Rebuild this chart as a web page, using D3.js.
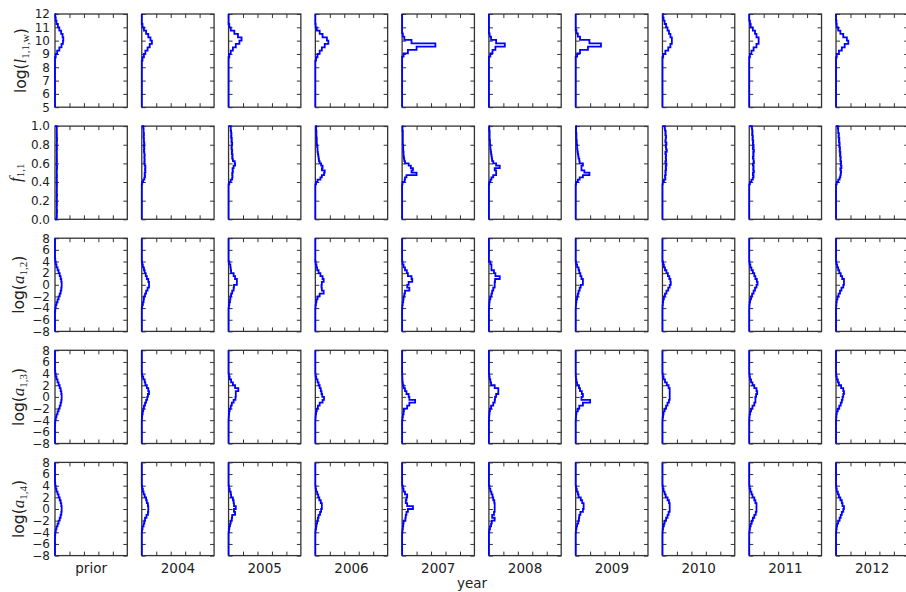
<!DOCTYPE html>
<html>
<head>
<meta charset="utf-8">
<script src="https://cdn.jsdelivr.net/npm/d3@7"></script>
<style>
  body { margin: 0; background: #fff; }
  svg { display: block; }
</style>
</head>
<body>
<svg id="chart" width="906" height="592"></svg>
<script>
// Column headings (one posterior per year, plus the prior)
const columns = ["prior", "2004", "2005", "2006", "2007", "2008", "2009", "2010", "2011", "2012"];

// Y-axis tick values for each row of panels
const ticksLogL = [5, 6, 7, 8, 9, 10, 11, 12];
const ticksF = [0, 0.2, 0.4, 0.6, 0.8, 1.0];
const ticksLogA = [-8, -6, -4, -2, 0, 2, 4, 6, 8];
// Unlabelled density ticks along the top and bottom edges
const ticksDensity = [0.2, 0.4, 0.6, 0.8];

// Histogram bin widths per row
const binLogL = 0.25;
const binF = 0.025;
const binLogA = 0.5;

// Step histograms: [lower edge of first bin, bin heights (normalised density)]
const histLogL11w = [
  [8.75, [0.01, 0.03, 0.06, 0.09, 0.11, 0.115, 0.105, 0.085, 0.06, 0.04, 0.02, 0.01, 0.004]],
  [8.5,  [0.01, 0.03, 0.05, 0.08, 0.11, 0.14, 0.12, 0.09, 0.06, 0.03, 0.01]],
  [8.75, [0.01, 0.03, 0.06, 0.10, 0.15, 0.18, 0.13, 0.08, 0.03, 0.01]],
  [8.5,  [0.01, 0.03, 0.06, 0.09, 0.13, 0.18, 0.16, 0.10, 0.06, 0.02, 0.005]],
  [8.8,  [0.02, 0.08, 0.20, 0.46, 0.13, 0.03, 0.01]],
  [8.8,  [0.02, 0.05, 0.09, 0.22, 0.10, 0.03, 0.01]],
  [8.8,  [0.02, 0.06, 0.17, 0.35, 0.19, 0.06, 0.03, 0.01]],
  [8.75, [0.01, 0.04, 0.08, 0.11, 0.13, 0.13, 0.11, 0.09, 0.07, 0.05, 0.03, 0.015, 0.005]],
  [8.75, [0.01, 0.03, 0.06, 0.10, 0.13, 0.13, 0.10, 0.08, 0.05, 0.02, 0.01]],
  [8.75, [0.01, 0.04, 0.08, 0.12, 0.17, 0.15, 0.10, 0.06, 0.03, 0.01, 0.005]]
];

const histF11 = [
  [0, [0.022, 0.026, 0.024, 0.028, 0.025, 0.023, 0.027, 0.025, 0.026, 0.024, 0.028, 0.023, 0.026, 0.025, 0.027, 0.024, 0.026, 0.022, 0.027, 0.025,
       0.024, 0.026, 0.028, 0.023, 0.025, 0.027, 0.024, 0.026, 0.025, 0.023, 0.027, 0.024, 0.026, 0.025, 0.028, 0.024, 0.026, 0.023, 0.025, 0.024]],
  [0.375, [0.005, 0.02, 0.035, 0.045, 0.04, 0.05, 0.045, 0.05, 0.04, 0.035, 0.04, 0.035, 0.04, 0.035, 0.03, 0.035, 0.03, 0.035, 0.03, 0.03, 0.025, 0.03, 0.025, 0.025, 0.02]],
  [0.375, [0.01, 0.03, 0.05, 0.055, 0.05, 0.06, 0.055, 0.07, 0.09, 0.085, 0.06, 0.05, 0.055, 0.045, 0.05, 0.04, 0.045, 0.05, 0.04, 0.045, 0.035, 0.04, 0.035, 0.03, 0.03]],
  [0.375, [0.01, 0.03, 0.07, 0.09, 0.12, 0.13, 0.09, 0.10, 0.08, 0.06, 0.05, 0.045, 0.04, 0.035, 0.03, 0.03, 0.025, 0.02, 0.02, 0.02, 0.015, 0.015, 0.015, 0.01, 0.01]],
  [0.375, [0.005, 0.035, 0.04, 0.06, 0.20, 0.13, 0.15, 0.12, 0.09, 0.04, 0.03, 0.025, 0.02, 0.02, 0.015, 0.015, 0.015, 0.01, 0.01, 0.01, 0.01, 0.01, 0.01, 0.005, 0.005]],
  [0.375, [0.005, 0.02, 0.035, 0.06, 0.10, 0.10, 0.08, 0.15, 0.10, 0.06, 0.045, 0.04, 0.035, 0.03, 0.025, 0.02, 0.02, 0.015, 0.015, 0.01, 0.01, 0.01, 0.01, 0.005, 0.005]],
  [0.375, [0.005, 0.03, 0.055, 0.10, 0.19, 0.12, 0.08, 0.08, 0.10, 0.055, 0.05, 0.04, 0.035, 0.03, 0.025, 0.02, 0.02, 0.015, 0.015, 0.01, 0.01, 0.01, 0.005, 0.005, 0.005]],
  [0.375, [0.005, 0.02, 0.04, 0.035, 0.045, 0.04, 0.05, 0.045, 0.055, 0.04, 0.05, 0.045, 0.05, 0.04, 0.06, 0.05, 0.045, 0.055, 0.04, 0.045, 0.05, 0.04, 0.045, 0.035, 0.03]],
  [0.375, [0.01, 0.03, 0.05, 0.06, 0.05, 0.065, 0.055, 0.06, 0.05, 0.065, 0.06, 0.05, 0.06, 0.055, 0.065, 0.05, 0.06, 0.05, 0.055, 0.045, 0.05, 0.04, 0.045, 0.04, 0.035]],
  [0.375, [0.01, 0.03, 0.05, 0.06, 0.065, 0.07, 0.06, 0.075, 0.065, 0.07, 0.06, 0.065, 0.055, 0.06, 0.05, 0.055, 0.045, 0.05, 0.04, 0.045, 0.035, 0.04, 0.03, 0.03, 0.025]]
];

const histLogA12 = [
  [-4.5, [0.003, 0.01, 0.02, 0.035, 0.05, 0.065, 0.078, 0.087, 0.092, 0.092, 0.087, 0.078, 0.065, 0.05, 0.035, 0.02, 0.01, 0.003]],
  [-4, [0.005, 0.015, 0.025, 0.03, 0.045, 0.06, 0.08, 0.10, 0.10, 0.09, 0.07, 0.055, 0.04, 0.03, 0.015, 0.005]],
  [-4, [0.005, 0.01, 0.02, 0.025, 0.035, 0.05, 0.07, 0.075, 0.115, 0.115, 0.09, 0.07, 0.035, 0.03, 0.025, 0.01]],
  [-4, [0.003, 0.008, 0.015, 0.03, 0.06, 0.115, 0.09, 0.085, 0.09, 0.115, 0.10, 0.07, 0.045, 0.025, 0.015, 0.005]],
  [-4, [0.003, 0.008, 0.015, 0.02, 0.03, 0.04, 0.10, 0.07, 0.09, 0.14, 0.13, 0.08, 0.065, 0.04, 0.02, 0.005]],
  [-4, [0.003, 0.006, 0.01, 0.02, 0.035, 0.045, 0.06, 0.08, 0.08, 0.085, 0.15, 0.09, 0.07, 0.035, 0.035, 0.02]],
  [-4, [0.002, 0.005, 0.01, 0.02, 0.03, 0.04, 0.055, 0.07, 0.10, 0.10, 0.08, 0.065, 0.05, 0.04, 0.02, 0.005]],
  [-4, [0.002, 0.005, 0.01, 0.02, 0.035, 0.055, 0.08, 0.10, 0.115, 0.11, 0.095, 0.075, 0.055, 0.035, 0.02, 0.008]],
  [-4, [0.002, 0.005, 0.012, 0.025, 0.04, 0.06, 0.08, 0.10, 0.115, 0.105, 0.085, 0.07, 0.05, 0.03, 0.015, 0.005]],
  [-4, [0.002, 0.005, 0.01, 0.02, 0.035, 0.055, 0.075, 0.10, 0.11, 0.11, 0.085, 0.065, 0.045, 0.03, 0.015, 0.005]]
];

const histLogA13 = [
  [-4.5, [0.003, 0.01, 0.02, 0.035, 0.05, 0.065, 0.078, 0.087, 0.092, 0.092, 0.087, 0.078, 0.065, 0.05, 0.035, 0.02, 0.01, 0.003]],
  [-4, [0.002, 0.005, 0.012, 0.02, 0.03, 0.045, 0.06, 0.075, 0.085, 0.10, 0.09, 0.07, 0.05, 0.04, 0.02, 0.005]],
  [-4, [0.002, 0.004, 0.008, 0.015, 0.03, 0.045, 0.07, 0.095, 0.10, 0.10, 0.135, 0.09, 0.06, 0.035, 0.015, 0.005]],
  [-4, [0.002, 0.005, 0.01, 0.02, 0.035, 0.06, 0.10, 0.12, 0.095, 0.085, 0.075, 0.06, 0.045, 0.03, 0.012, 0.004]],
  [-4, [0.005, 0.01, 0.02, 0.025, 0.07, 0.10, 0.18, 0.10, 0.09, 0.06, 0.04, 0.02, 0.01, 0.005, 0.003, 0.002]],
  [-4, [0.002, 0.004, 0.008, 0.015, 0.03, 0.06, 0.08, 0.085, 0.10, 0.13, 0.13, 0.08, 0.03, 0.02, 0.01, 0.004]],
  [-4, [0.002, 0.005, 0.01, 0.03, 0.05, 0.10, 0.20, 0.08, 0.10, 0.085, 0.06, 0.045, 0.02, 0.01, 0.004, 0.001]],
  [-4, [0.003, 0.008, 0.015, 0.03, 0.05, 0.07, 0.09, 0.10, 0.10, 0.10, 0.10, 0.085, 0.06, 0.035, 0.015, 0.005]],
  [-4, [0.002, 0.005, 0.012, 0.025, 0.045, 0.07, 0.085, 0.085, 0.095, 0.11, 0.10, 0.07, 0.045, 0.025, 0.01, 0.004]],
  [-4, [0.002, 0.005, 0.01, 0.025, 0.045, 0.065, 0.08, 0.09, 0.10, 0.11, 0.10, 0.07, 0.04, 0.025, 0.01, 0.003]]
];

const histLogA14 = [
  [-4.5, [0.003, 0.01, 0.02, 0.035, 0.05, 0.065, 0.078, 0.087, 0.092, 0.092, 0.087, 0.078, 0.065, 0.05, 0.035, 0.02, 0.01, 0.003]],
  [-4, [0.002, 0.01, 0.025, 0.035, 0.045, 0.065, 0.085, 0.09, 0.09, 0.085, 0.07, 0.06, 0.04, 0.025, 0.015, 0.005]],
  [-4, [0.005, 0.01, 0.02, 0.03, 0.045, 0.05, 0.09, 0.075, 0.10, 0.075, 0.07, 0.06, 0.035, 0.03, 0.015, 0.005]],
  [-4, [0.003, 0.01, 0.015, 0.025, 0.035, 0.045, 0.065, 0.08, 0.09, 0.09, 0.075, 0.055, 0.04, 0.025, 0.01, 0.004]],
  [-4, [0.005, 0.01, 0.015, 0.02, 0.045, 0.05, 0.06, 0.08, 0.15, 0.07, 0.05, 0.06, 0.07, 0.04, 0.02, 0.01]],
  [-4, [0.005, 0.015, 0.03, 0.04, 0.08, 0.045, 0.07, 0.08, 0.08, 0.08, 0.075, 0.06, 0.05, 0.035, 0.02, 0.008]],
  [-4, [0.003, 0.01, 0.02, 0.035, 0.045, 0.05, 0.065, 0.10, 0.11, 0.11, 0.09, 0.07, 0.04, 0.03, 0.015, 0.005]],
  [-4, [0.003, 0.008, 0.02, 0.03, 0.05, 0.07, 0.085, 0.10, 0.10, 0.10, 0.09, 0.07, 0.045, 0.03, 0.015, 0.005]],
  [-4, [0.005, 0.01, 0.02, 0.035, 0.05, 0.07, 0.09, 0.10, 0.10, 0.10, 0.085, 0.07, 0.045, 0.03, 0.015, 0.005]],
  [-4, [0.003, 0.008, 0.015, 0.03, 0.05, 0.065, 0.08, 0.10, 0.11, 0.09, 0.08, 0.06, 0.04, 0.025, 0.01, 0.004]]
];

// Row definitions assembled from the arrays above
const rows = [
  { hist: histLogL11w, bin: binLogL, domain: [5, 12], ticks: ticksLogL, fmt: d3.format("d"),
    labelX: 26, label: { pre: "log(", v: "l", sub: "1,1,w", post: ")" } },
  { hist: histF11, bin: binF, domain: [0, 1], ticks: ticksF, fmt: d3.format(".1f"),
    labelX: 21, label: { pre: "", v: "f", sub: "1,1", post: "" } },
  { hist: histLogA12, bin: binLogA, domain: [-8, 8], ticks: ticksLogA, fmt: d3.format("d"),
    labelX: 24, label: { pre: "log(", v: "a", sub: "1,2", post: ")" } },
  { hist: histLogA13, bin: binLogA, domain: [-8, 8], ticks: ticksLogA, fmt: d3.format("d"),
    labelX: 24, label: { pre: "log(", v: "a", sub: "1,3", post: ")" } },
  { hist: histLogA14, bin: binLogA, domain: [-8, 8], ticks: ticksLogA, fmt: d3.format("d"),
    labelX: 24, label: { pre: "log(", v: "a", sub: "1,4", post: ")" } }
];

// Grid layout
const left0 = 55, colStep = 86.78, panelW = 72.3;
const top0 = 14, rowStep = 112.1, panelH = 93.2;
const frameColor = "#333";
const textColor = "#222";
const font = "'DejaVu Sans', sans-serif";
const mathFont = "'Liberation Serif', serif";

const svg = d3.select("#chart");
const x = d3.scaleLinear().domain([0, 1]).range([0, panelW]);

function stepPoints(lo, heights, bin, dom) {
  const pts = [[0, dom[0]], [0, lo]];
  heights.forEach((h, i) => {
    pts.push([h, lo + i * bin], [h, lo + (i + 1) * bin]);
  });
  pts.push([0, lo + heights.length * bin], [0, dom[1]]);
  return pts;
}

function styleAxis(g) {
  g.select(".domain").remove();
  g.selectAll(".tick line").attr("stroke", frameColor).attr("stroke-width", 1);
  g.selectAll(".tick text").attr("fill", textColor)
    .style("font-family", font).style("font-size", "12px");
}

rows.forEach((row, r) => {
  const top = top0 + r * rowStep;
  const y = d3.scaleLinear().domain(row.domain).range([panelH, 0]);
  const line = d3.line().x(d => x(d[0])).y(d => y(d[1]));

  columns.forEach((col, c) => {
    const left = left0 + c * colStep;
    const g = svg.append("g").attr("transform", `translate(${left},${top})`);

    // frame
    g.append("rect")
      .attr("width", panelW).attr("height", panelH)
      .attr("fill", "none").attr("stroke", frameColor).attr("stroke-width", 1.3);

    // inward ticks on all four sides
    const axL = g.append("g").call(
      d3.axisLeft(y).tickValues(row.ticks).tickSizeInner(-4).tickSizeOuter(0).tickPadding(5)
        .tickFormat(c === 0 ? row.fmt : ""));
    styleAxis(axL);
    const axR = g.append("g").attr("transform", `translate(${panelW},0)`).call(
      d3.axisRight(y).tickValues(row.ticks).tickSizeInner(-4).tickSizeOuter(0).tickFormat(""));
    styleAxis(axR);
    const axT = g.append("g").call(
      d3.axisTop(x).tickValues(ticksDensity).tickSizeInner(-4).tickSizeOuter(0).tickFormat(""));
    styleAxis(axT);
    const axB = g.append("g").attr("transform", `translate(0,${panelH})`).call(
      d3.axisBottom(x).tickValues(ticksDensity).tickSizeInner(-4).tickSizeOuter(0).tickFormat(""));
    styleAxis(axB);

    // histogram outline
    const [lo, heights] = row.hist[c];
    g.append("path")
      .attr("d", line(stepPoints(lo, heights, row.bin, row.domain)))
      .attr("fill", "none").attr("stroke", "#0000ff")
      .attr("stroke-width", 1.8).attr("stroke-linejoin", "miter");
  });

  // row label (rotated, with math-style variable and subscript)
  const lab = row.label;
  const t = svg.append("text")
    .attr("transform", `translate(${row.labelX},${top + panelH / 2}) rotate(-90)`)
    .attr("text-anchor", "middle")
    .attr("fill", textColor)
    .style("font-family", font).style("font-size", "15.5px");
  if (lab.pre) t.append("tspan").text(lab.pre);
  t.append("tspan").text(lab.v)
    .style("font-family", mathFont).style("font-style", "italic").style("font-size", "17px");
  t.append("tspan").text(lab.sub)
    .attr("dy", 3)
    .style("font-family", mathFont).style("font-size", "11px");
  if (lab.post) t.append("tspan").text(lab.post).attr("dy", -3);
});

// column labels
svg.append("g").selectAll("text").data(columns).join("text")
  .attr("x", (d, i) => left0 + i * colStep + panelW / 2)
  .attr("y", 572.5)
  .attr("text-anchor", "middle")
  .attr("fill", textColor)
  .style("font-family", font).style("font-size", "13.5px")
  .text(d => d);

svg.append("text")
  .attr("x", 472).attr("y", 587.5)
  .attr("text-anchor", "middle")
  .attr("fill", textColor)
  .style("font-family", font).style("font-size", "13.5px")
  .text("year");
</script>
</body>
</html>
